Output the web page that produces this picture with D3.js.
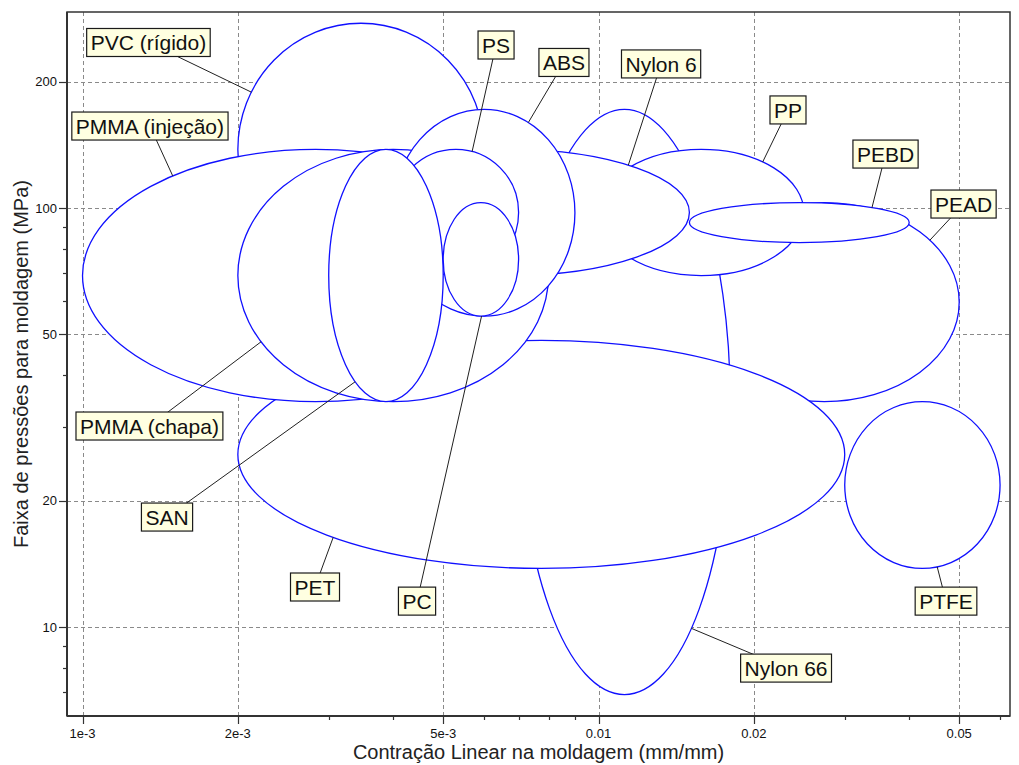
<!DOCTYPE html>
<html>
<head>
<meta charset="utf-8">
<script src="https://cdn.jsdelivr.net/npm/d3@7"></script>
<style>
  html, body { margin: 0; padding: 0; background: #fff; }
  svg { display: block; font-family: "Liberation Sans", Arial, sans-serif; }
</style>
</head>
<body>
<svg id="chart" width="1019" height="765"></svg>
<script>
// ---------- data ----------
// drawing order (later items are painted over earlier ones)
const materials   = ["PEAD", "Nylon 66", "PP", "Nylon 6", "PET", "PVC (rígido)", "PMMA (injeção)", "PMMA (chapa)", "ABS", "PS", "SAN", "PC", "PEBD", "PTFE"];
const shrinkMin   = [0.015, 0.007, 0.010, 0.003, 0.002, 0.002, 0.001, 0.002, 0.004, 0.004, 0.003, 0.005, 0.015, 0.030];
const shrinkMax   = [0.050, 0.018, 0.025, 0.015, 0.030, 0.006, 0.008, 0.008, 0.009, 0.007, 0.005, 0.007, 0.040, 0.060];
const pressureMin = [34.5, 6.9, 69, 69, 13.8, 69, 34.5, 34.5, 55.2, 69, 34.5, 55.2, 82.7, 13.8];
const pressureMax = [103, 172, 138, 138, 48.3, 276, 138, 138, 172, 138, 138, 103, 103, 34.5];
// label anchors (data coordinates) and leader attachment angle on each ellipse (degrees)
const labelX      = [0.05098, 0.02309, 0.02329, 0.01322, 0.002822, 0.001342, 0.001351, 0.001348, 0.00857, 0.00633, 0.001458, 0.004449, 0.03599, 0.04714];
const labelY      = [102.2, 7.98, 171.4, 220.7, 12.46, 248.3, 156.9, 30.18, 222.5, 244.9, 18.3, 11.53, 134.5, 11.53];
const leaderAngle = [-38.5, 50.7, -53.2, -48.6, 133.3, 207, -127.8, 148.3, -60.8, -75, 122.6, 89, -48.6, 79];

const xDomain = [9.331e-4, 0.06272];
const yDomain = [6.133, 293.6];
const xTickMajor = [0.001, 0.002, 0.005, 0.01, 0.02, 0.05];
const xTickLabels = ["1e-3", "2e-3", "5e-3", "0.01", "0.02", "0.05"];
const xTickMinor = [0.003, 0.004, 0.006, 0.007, 0.008, 0.009, 0.03, 0.04, 0.06];
const yTickMajor = [10, 20, 50, 100, 200];
const yTickLabels = ["10", "20", "50", "100", "200"];
const yTickMinor = [7, 8, 9, 30, 40, 60, 70, 80, 90];
const xTitle = "Contração Linear na moldagem (mm/mm)";
const yTitle = "Faixa de pressões para moldagem (MPa)";

// ---------- layout ----------
const plot = { left: 67, right: 1010, top: 12, bottom: 716 };
const svg = d3.select("#chart");

const x = d3.scaleLog().domain(xDomain).range([plot.left, plot.right]);
const y = d3.scaleLog().domain(yDomain).range([plot.bottom, plot.top]);

// grid
const grid = svg.append("g").attr("stroke", "#8a8a8a").attr("stroke-width", 1).attr("stroke-dasharray", "4,3");
grid.selectAll("line.vx").data(xTickMajor).join("line")
  .attr("x1", d => Math.round(x(d)) + 0.5).attr("x2", d => Math.round(x(d)) + 0.5)
  .attr("y1", plot.top).attr("y2", plot.bottom);
grid.selectAll("line.hy").data(yTickMajor).join("line")
  .attr("y1", d => Math.round(y(d)) + 0.5).attr("y2", d => Math.round(y(d)) + 0.5)
  .attr("x1", plot.left).attr("x2", plot.right);

// ellipses
const shapes = materials.map((m, i) => {
  const x0 = x(shrinkMin[i]), x1 = x(shrinkMax[i]);
  const y0 = y(pressureMax[i]), y1 = y(pressureMin[i]);
  return { name: m, cx: (x0 + x1) / 2, cy: (y0 + y1) / 2, rx: (x1 - x0) / 2, ry: (y1 - y0) / 2, i };
});

svg.append("clipPath").attr("id", "clip").append("rect")
  .attr("x", plot.left).attr("y", plot.top)
  .attr("width", plot.right - plot.left).attr("height", plot.bottom - plot.top);

const eg = svg.append("g").attr("clip-path", "url(#clip)");
eg.selectAll("ellipse").data(shapes).join("ellipse")
  .attr("cx", d => d.cx).attr("cy", d => d.cy)
  .attr("rx", d => d.rx).attr("ry", d => d.ry)
  .attr("fill", "#ffffff").attr("stroke", "#1010ff").attr("stroke-width", 1.3);

// leaders
const lg = svg.append("g").attr("stroke", "#202020").attr("stroke-width", 1);
shapes.forEach(s => {
  const a = leaderAngle[s.i] * Math.PI / 180;
  lg.append("line")
    .attr("x1", x(labelX[s.i])).attr("y1", y(labelY[s.i]))
    .attr("x2", s.cx + s.rx * Math.cos(a)).attr("y2", s.cy + s.ry * Math.sin(a));
});

// labels
const labG = svg.append("g");
shapes.forEach(s => {
  const g = labG.append("g").attr("transform", `translate(${x(labelX[s.i])},${y(labelY[s.i])})`);
  const t = g.append("text").attr("text-anchor", "middle").attr("dy", "0.36em")
    .attr("font-size", 21).attr("fill", "#111").text(s.name);
  const bb = t.node().getBBox();
  const w = bb.width + 8, h = 28;
  g.insert("rect", "text").attr("x", -w / 2).attr("y", -h / 2).attr("width", w).attr("height", h)
    .attr("fill", "#ffffe1").attr("stroke", "#1a1a1a").attr("stroke-width", 1.2);
});

// frame / axes
const ax = svg.append("g").attr("stroke", "#333").attr("fill", "none");
ax.append("rect").attr("x", plot.left).attr("y", plot.top)
  .attr("width", plot.right - plot.left).attr("height", plot.bottom - plot.top).attr("stroke-width", 1.5);
ax.append("line").attr("x1", plot.left).attr("x2", plot.right).attr("y1", plot.bottom).attr("y2", plot.bottom).attr("stroke-width", 2);
ax.append("line").attr("x1", plot.left).attr("x2", plot.left).attr("y1", plot.top).attr("y2", plot.bottom).attr("stroke-width", 2);

// x ticks
ax.selectAll("line.xt").data(xTickMajor).join("line")
  .attr("x1", d => Math.round(x(d)) + 0.5).attr("x2", d => Math.round(x(d)) + 0.5)
  .attr("y1", plot.bottom).attr("y2", plot.bottom + 8).attr("stroke-width", 1.2);
ax.selectAll("line.xm").data(xTickMinor).join("line")
  .attr("x1", d => Math.round(x(d)) + 0.5).attr("x2", d => Math.round(x(d)) + 0.5)
  .attr("y1", plot.bottom).attr("y2", plot.bottom + 4).attr("stroke-width", 1.2);
// y ticks
ax.selectAll("line.yt").data(yTickMajor).join("line")
  .attr("y1", d => Math.round(y(d)) + 0.5).attr("y2", d => Math.round(y(d)) + 0.5)
  .attr("x1", plot.left - 8).attr("x2", plot.left).attr("stroke-width", 1.2);
ax.selectAll("line.ym").data(yTickMinor).join("line")
  .attr("y1", d => Math.round(y(d)) + 0.5).attr("y2", d => Math.round(y(d)) + 0.5)
  .attr("x1", plot.left - 4).attr("x2", plot.left).attr("stroke-width", 1.2);

const tl = svg.append("g").attr("font-size", 13).attr("fill", "#111");
tl.selectAll("text.xl").data(xTickMajor).join("text")
  .attr("x", d => x(d)).attr("y", plot.bottom + 22).attr("text-anchor", "middle")
  .text((d, i) => xTickLabels[i]);
tl.selectAll("text.yl").data(yTickMajor).join("text")
  .attr("x", plot.left - 10).attr("y", d => y(d)).attr("dy", "0.35em").attr("text-anchor", "end")
  .text((d, i) => yTickLabels[i]);

svg.append("text").attr("x", (plot.left + plot.right) / 2).attr("y", 759)
  .attr("text-anchor", "middle").attr("font-size", 20).attr("fill", "#222").text(xTitle);
svg.append("text").attr("transform", `translate(28,${(plot.top + plot.bottom) / 2}) rotate(-90)`)
  .attr("text-anchor", "middle").attr("font-size", 20).attr("fill", "#222").text(yTitle);
</script>
</body>
</html>
